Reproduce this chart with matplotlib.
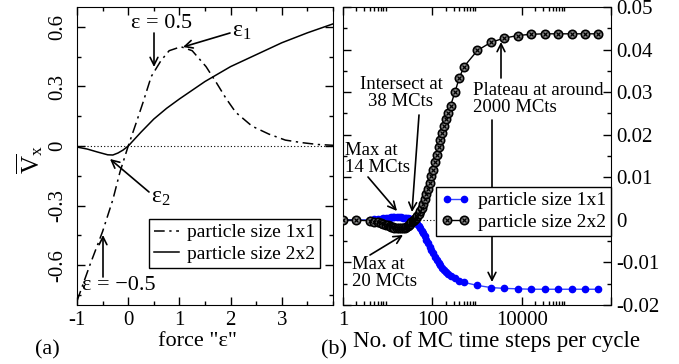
import matplotlib
matplotlib.use("Agg")
import matplotlib.pyplot as plt
from matplotlib.ticker import MultipleLocator, FixedLocator, NullFormatter, FixedFormatter

plt.rcParams['font.family'] = ['Liberation Serif', 'DejaVu Serif']
plt.rcParams['mathtext.fontset'] = 'custom'
plt.rcParams['mathtext.rm'] = 'Liberation Serif'
plt.rcParams['mathtext.it'] = 'Liberation Serif:italic'
plt.rcParams['axes.unicode_minus'] = False

# ---------------- data: panel (a) ----------------
force_1x1 = [-1.0, -0.75, -0.5, -0.3, -0.16, 0.0, 0.16, 0.29, 0.45, 0.64, 0.8, 1.03,
             1.25, 1.52, 1.72, 1.91, 2.1, 2.42, 2.75, 3.07, 3.4, 3.7, 4.0]
vx_1x1 = [-0.78, -0.6, -0.43, -0.27, -0.13, 0.0, 0.12, 0.22, 0.35, 0.43, 0.48, 0.50,
          0.48, 0.40, 0.32, 0.24, 0.17, 0.10, 0.06, 0.03, 0.017, 0.008, 0.004]
force_2x2 = [-1.0, -0.8, -0.6, -0.4, -0.3, -0.2, -0.1, 0.0, 0.25, 0.5, 0.75, 1.0,
             1.5, 2.0, 2.5, 3.0, 3.5, 4.0]
vx_2x2 = [-0.005, -0.015, -0.03, -0.044, -0.045, -0.035, -0.02, 0.0, 0.07, 0.136,
          0.19, 0.237, 0.325, 0.40, 0.46, 0.52, 0.57, 0.615]

# ---------------- data: panel (b) ----------------
mc_steps = [1, 2, 4, 5, 6, 7, 8, 9, 10, 11, 12, 13, 14, 16, 18, 20, 22, 24, 26, 28, 30,
            32, 34, 36, 38, 40, 43, 46, 50, 54, 58, 63, 68, 74, 80, 87, 95, 104, 114,
            125, 138, 152, 168, 186, 206, 228, 256, 320, 400, 512, 1024, 2048, 4096,
            8192, 16384, 32768, 65536, 131072, 262144, 524288]
v_1x1 = [0.0, 0.0, 0.0, 0.0001, 0.0002, 0.0003, 0.0004, 0.0004, 0.0005, 0.0005,
         0.0006, 0.0006, 0.0006, 0.0006, 0.0006, 0.0006, 0.0005, 0.0005, 0.0004, 0.0004,
         0.0003, 0.0002, 0.0001, 0.0001, 0.0, -0.0002, -0.0005, -0.0009, -0.0014,
         -0.0019, -0.0025, -0.0032, -0.0039, -0.0047, -0.0055, -0.0063, -0.0071,
         -0.0079, -0.0087, -0.0094, -0.0101, -0.0107, -0.0113, -0.0118, -0.0123,
         -0.0127, -0.0131, -0.0137, -0.0143, -0.0147, -0.0154, -0.0159, -0.0161,
         -0.0162, -0.0163, -0.0163, -0.0163, -0.0163, -0.0163, -0.0163]
v_2x2 = [0.0, -0.0001, -0.0002, -0.0004, -0.0006, -0.0008, -0.0010, -0.0012, -0.0013,
         -0.0015, -0.0016, -0.0017, -0.0018, -0.0019, -0.0020, -0.0020, -0.0020,
         -0.0019, -0.0017, -0.0015, -0.0012, -0.0009, -0.0006, -0.0003, 0.0, 0.0002,
         0.0005, 0.0009, 0.0014, 0.0020, 0.0027, 0.0037, 0.0048, 0.0060, 0.0072,
         0.0086, 0.0102, 0.0118, 0.0135, 0.0152, 0.0170, 0.0187, 0.0204, 0.0220,
         0.0236, 0.0251, 0.0268, 0.0300, 0.0333, 0.0360, 0.0398, 0.0417, 0.0427,
         0.0433, 0.0436, 0.0437, 0.0437, 0.0437, 0.0437, 0.0437]

W, H = 679, 364
fig = plt.figure(figsize=(W / 100, H / 100), dpi=100)

def rect(l, r, t, b):
    return [l / W, 1 - b / H, (r - l) / W, (b - t) / H]

def fp(px, py):
    return (px / W, 1 - py / H)

axa = fig.add_axes(rect(77, 333, 7, 305))
axb = fig.add_axes(rect(343, 611, 7, 305))

TICK_FS = 15
# ---------------- panel (a) ----------------
axa.axhline(0, color='black', lw=0.8, ls=(0, (1, 2)), zorder=1)
l1, = axa.plot(force_1x1, vx_1x1, color='black', lw=1.1, ls=(0, (7, 3, 1.5, 3)),
               label='particle size 1x1')
l2, = axa.plot(force_2x2, vx_2x2, color='black', lw=1.1, label='particle size 2x2')
axa.set_xlim(-1, 4)
axa.set_ylim(-0.8, 0.7)
axa.xaxis.set_major_locator(FixedLocator([-1, 0, 1, 2, 3]))
axa.xaxis.set_minor_locator(MultipleLocator(0.5))
axa.yaxis.set_major_locator(FixedLocator([-0.6, -0.3, 0, 0.3, 0.6]))
axa.yaxis.set_major_formatter(FixedFormatter(['-0.6', '-0.3', '0', '0.3', '0.6']))
axa.yaxis.set_minor_locator(MultipleLocator(0.15))
axa.tick_params(which='both', direction='in', top=True, right=True, labelsize=TICK_FS)
axa.tick_params(which='major', length=6, width=1)
axa.tick_params(which='minor', length=3, width=1)
axa.tick_params(axis='y', labelrotation=90, pad=7)
axa.tick_params(axis='x', pad=4)
for lab in axa.get_yticklabels():
    lab.set_va('center')

leg_a = axa.legend(handles=[l1, l2], loc='upper left', bbox_to_anchor=(0.281, 0.289),
                   borderaxespad=0, fontsize=14, frameon=True, fancybox=False,
                   framealpha=1, edgecolor='black', handlelength=1.3,
                   handletextpad=0.4, borderpad=0.25, labelspacing=0.2)
leg_a.get_frame().set_linewidth(1.0)

arr = dict(arrowstyle='->', lw=1.2, color='black', shrinkA=0, shrinkB=0,
           mutation_scale=14)

def arrow(ax, tail, head):
    ax.annotate('', xy=fp(*head), xycoords='figure fraction',
                xytext=fp(*tail), textcoords='figure fraction', arrowprops=arr)

def label(px, py, s, ha='center', **kw):
    x, y = fp(px, py)
    fig.text(x, y, s, ha=ha, va='center', **kw)

label(162, 23, 'ε = 0.5', fontsize=16)
arrow(axa, (154, 33), (154, 67))
label(242, 32, r'$\mathregular{ε_1}$', fontsize=17)
arrow(axa, (230, 33), (183, 47))
label(161, 197, r'$\mathregular{ε_2}$', fontsize=17)
arrow(axa, (149, 192), (110, 159))
label(119, 286, 'ε = −0.5', fontsize=16)
arrow(axa, (103, 277), (103, 235))

# ---------------- panel (b) ----------------
axb.set_xscale('log')
axb.axhline(0, color='black', lw=0.8, ls=(0, (1, 2)), zorder=1)
lb1, = axb.plot(mc_steps, v_1x1, color='#3344ff', lw=1.0, marker='o', ms=4.5,
                mfc='blue', mec='blue', zorder=3)
lb2, = axb.plot(mc_steps, v_2x2, color='black', lw=1.0, marker='o', ms=6,
                mfc='#8a8a8a', mec='black', mew=1.2, zorder=4)
lb2x, = axb.plot(mc_steps, v_2x2, ls='none', marker='x', ms=3.5, color='black',
                 mew=0.9, zorder=5)
axb.set_xlim(1, 1e6)
axb.set_ylim(-0.02, 0.05)
axb.xaxis.set_major_locator(FixedLocator([1, 100, 10000, 1000000]))
axb.xaxis.set_major_formatter(FixedFormatter(['1', '100', '10000', '']))
minors = []
for base in [1, 100, 10000]:
    for k in range(2, 10):
        minors.append(base * k)
axb.xaxis.set_minor_locator(FixedLocator(minors))
axb.xaxis.set_minor_formatter(NullFormatter())
axb.yaxis.set_major_locator(FixedLocator([-0.02, -0.01, 0, 0.01, 0.02, 0.03, 0.04, 0.05]))
axb.yaxis.set_major_formatter(FixedFormatter(
    ['-0.02', '-0.01', '0', '0.01', '0.02', '0.03', '0.04', '0.05']))
axb.yaxis.set_minor_locator(MultipleLocator(0.005))
axb.tick_params(which='both', direction='in', top=True, right=True, left=True,
                labelleft=False, labelright=True, labelsize=TICK_FS)
axb.tick_params(which='major', length=6, width=1)
axb.tick_params(which='minor', length=3, width=1)
axb.tick_params(axis='y', pad=4)
axb.tick_params(axis='x', pad=4)

TFS = 13.5
label(401, 93, 'Intersect at\n38 MCts', fontsize=TFS, linespacing=0.95)
arrow(axb, (419, 115), (412, 212))
label(345, 159, 'Max at\n14 MCts', ha='left', fontsize=TFS, linespacing=0.95)
arrow(axb, (368, 177), (397, 211))
label(352, 273, 'Max at\n20 MCts', ha='left', fontsize=TFS, linespacing=0.95)
arrow(axb, (370, 255), (403, 235))
label(473, 99, 'Plateau at around\n2000 MCts', ha='left', fontsize=TFS,
      linespacing=0.95)
arrow(axb, (501, 78), (501, 42))
arrow(axb, (492, 120), (492, 282))

leg_b = axb.legend(handles=[lb1, (lb2, lb2x)],
                   labels=['particle size 1x1', 'particle size 2x2'],
                   loc='upper left', bbox_to_anchor=(0.347, 0.396), borderaxespad=0,
                   fontsize=14, frameon=True, fancybox=False, framealpha=1,
                   edgecolor='black', handlelength=1.5, handletextpad=0.4,
                   borderpad=0.25, labelspacing=0.2, numpoints=2)
leg_b.get_frame().set_linewidth(1.0)
leg_b.set_zorder(10)

# ---------------- figure texts ----------------
label(198, 342, 'force "ε"', fontsize=16)
label(497, 342, 'No. of MC time steps per cycle', fontsize=16.5)
label(47, 350, '(a)', fontsize=16)
label(334, 350, '(b)', fontsize=16)
label(30, 160, r'$\overline{\mathregular{V}}_{\mathregular{x}}$', fontsize=18,
      rotation=90)

fig.savefig('out.png', dpi=100)
